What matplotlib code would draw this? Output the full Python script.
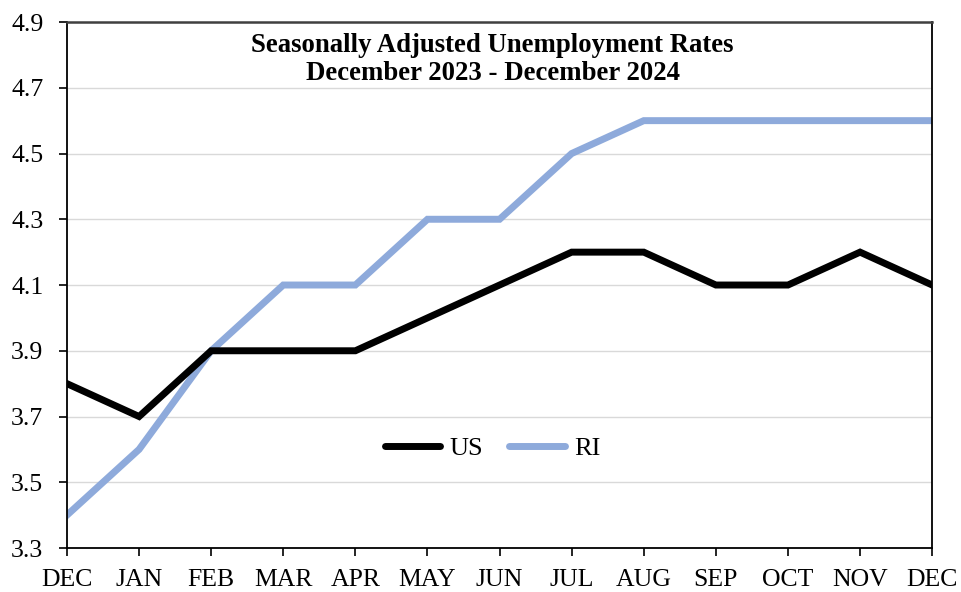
import matplotlib
matplotlib.use("Agg")
import matplotlib.pyplot as plt
import numpy as np

plt.rcParams['font.family'] = ['Liberation Serif', 'DejaVu Serif']

months = ["DEC", "JAN", "FEB", "MAR", "APR", "MAY", "JUN",
          "JUL", "AUG", "SEP", "OCT", "NOV", "DEC"]
us_rate = [3.8, 3.7, 3.9, 3.9, 3.9, 4.0, 4.1, 4.2, 4.2, 4.1, 4.1, 4.2, 4.1]
ri_rate = [3.4, 3.6, 3.9, 4.1, 4.1, 4.3, 4.3, 4.5, 4.6, 4.6, 4.6, 4.6, 4.6]
y_ticks = [3.3, 3.5, 3.7, 3.9, 4.1, 4.3, 4.5, 4.7, 4.9]

fig = plt.figure(figsize=(9.61, 5.92), dpi=100)
ax = fig.add_axes([0.0697, 0.0743, 0.9003, 0.8885])

x = np.arange(len(months))
ax.plot(x, us_rate, color="black", lw=5, label="US",
        solid_joinstyle="miter", zorder=3)
ax.plot(x, ri_rate, color="#8eaadb", lw=5, label="RI",
        solid_joinstyle="miter", zorder=2)

ax.set_xlim(0, len(months) - 1)
ax.set_ylim(3.3, 4.9)
ax.set_xticks(x)
ax.set_xticklabels(months)
ax.set_yticks(y_ticks)
ax.set_yticklabels(["%.1f" % v for v in y_ticks])
ax.tick_params(axis="both", direction="out", length=6, width=1.2,
               labelsize=18.5, colors="black")
ax.tick_params(axis="y", pad=11)
ax.tick_params(axis="x", pad=9)

ax.grid(axis="y", color="#d9d9d9", lw=1)
ax.set_axisbelow(True)
ax.spines["left"].set_linewidth(1.3)
ax.spines["bottom"].set_linewidth(1.3)
ax.spines["right"].set_linewidth(1.3)
ax.spines["top"].set_color("#404040")
ax.spines["top"].set_linewidth(1.8)

ax.text(0.492, 0.98, "Seasonally Adjusted Unemployment Rates\nDecember 2023 - December 2024",
        transform=ax.transAxes, ha="center", va="top", fontsize=19.3,
        fontweight="bold", linespacing=1.2)

leg = ax.legend(loc="center", bbox_to_anchor=(0.492, 0.19), ncol=2, frameon=False,
                fontsize=19, handlelength=2.1, columnspacing=1.0, handletextpad=0.35)
for h in leg.get_lines():
    h.set_solid_capstyle("round")

fig.savefig("out.png", dpi=100)
